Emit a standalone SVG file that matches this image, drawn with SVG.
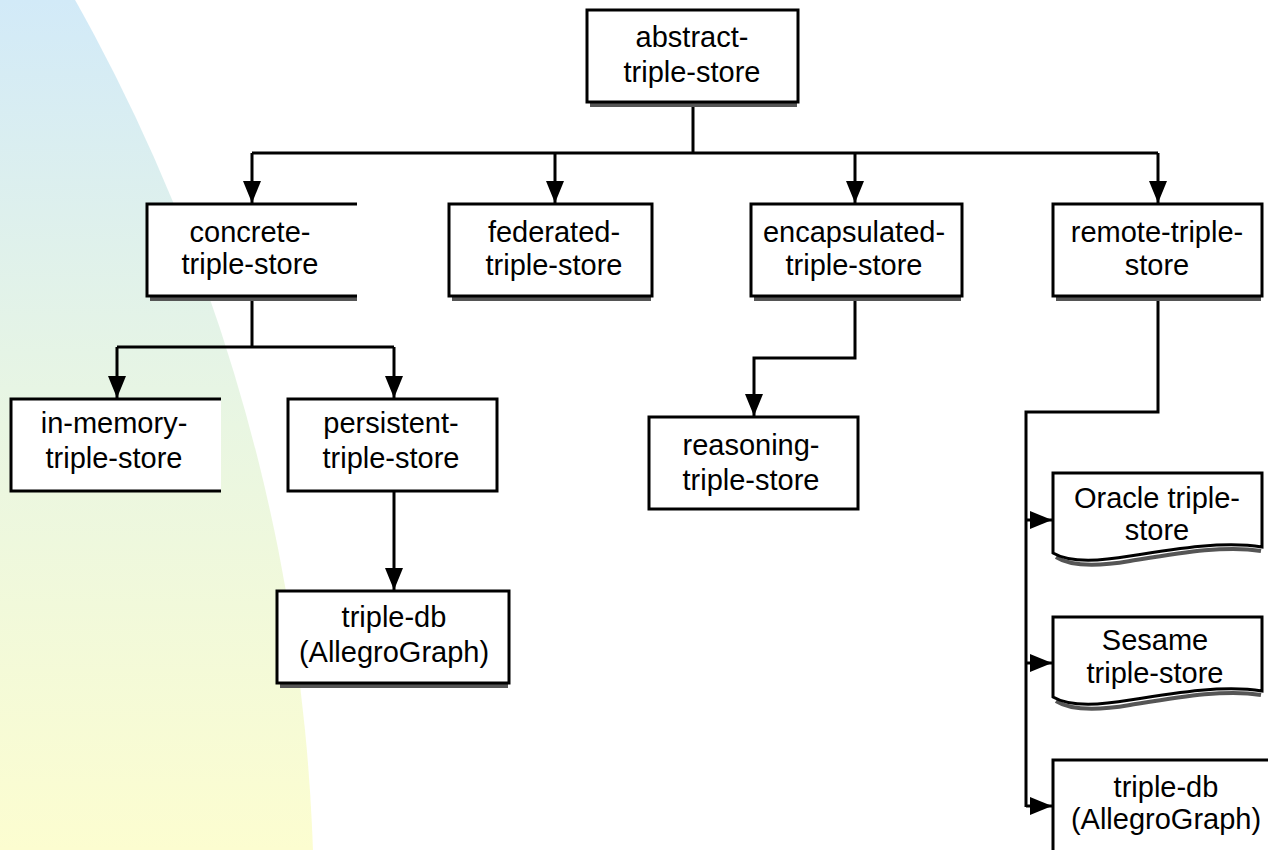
<svg xmlns="http://www.w3.org/2000/svg" width="1268" height="850" viewBox="0 0 1268 850">
  <defs>
    <linearGradient id="bg" x1="0" y1="0" x2="0" y2="850" gradientUnits="userSpaceOnUse">
      <stop offset="0" stop-color="#d2eaf8"/>
      <stop offset="0.5" stop-color="#e9f6e2"/>
      <stop offset="1" stop-color="#fcfdd0"/>
    </linearGradient>
    <marker id="arr" viewBox="0 0 22 18" refX="22" refY="9" markerWidth="22" markerHeight="18" markerUnits="userSpaceOnUse" orient="auto">
      <path d="M0,0 L22,9 L0,18 Z" fill="#000"/>
    </marker>
    <style>
      .box { fill: #fff; stroke: #000; stroke-width: 3; }
      .edge { fill: none; stroke: #000; stroke-width: 3; }
      .sh { fill: #555; }
      .shw { fill: none; stroke: #555; stroke-width: 4; }
      .conn { fill: none; stroke: #000; stroke-width: 3; }
      .arrow { marker-end: url(#arr); }
      text { font-family: "Liberation Sans", Arial, sans-serif; font-size: 29px; fill: #000; text-anchor: middle; }
    </style>
  </defs>

  <rect x="0" y="0" width="1268" height="850" fill="#fff"/>
  <circle cx="-1550" cy="913" r="1864" fill="url(#bg)"/>

  <g id="connectors">
    <path class="conn" d="M693,102 V153 M252,153 H1158"/>
    <path class="conn arrow" d="M252,153 V203"/>
    <path class="conn arrow" d="M555,153 V203"/>
    <path class="conn arrow" d="M855,153 V203"/>
    <path class="conn arrow" d="M1158,153 V203"/>
    <path class="conn" d="M252,296 V347 M117,347 H394"/>
    <path class="conn arrow" d="M117,347 V398"/>
    <path class="conn arrow" d="M394,347 V398"/>
    <path class="conn arrow" d="M394,491 V590"/>
    <path class="conn arrow" d="M855,296 V358 H754 V416"/>
    <path class="conn" d="M1158,296 V412 H1026 V807"/>
    <path class="conn arrow" d="M1026,520 H1052"/>
    <path class="conn arrow" d="M1026,663 H1052"/>
    <path class="conn arrow" d="M1026,806 H1052"/>
  </g>

  <g id="abstract-triple-store">
    <rect class="sh" x="590" y="103" width="207" height="4"/>
    <rect class="box" x="587" y="10" width="211" height="92"/>
    <text x="692" y="47">abstract-</text>
    <text x="692" y="82">triple-store</text>
  </g>

  <g id="concrete-triple-store">
    <rect class="sh" x="150" y="297" width="207" height="4"/>
    <rect x="147" y="204" width="210" height="92" fill="#fff"/>
    <path class="edge" d="M357,204 H147 V296 H357"/>
    <text x="250" y="242">concrete-</text>
    <text x="250" y="274">triple-store</text>
  </g>

  <g id="federated-triple-store">
    <rect class="sh" x="452" y="297" width="199" height="4"/>
    <rect class="box" x="449" y="204" width="203" height="92"/>
    <text x="554" y="242">federated-</text>
    <text x="554" y="275">triple-store</text>
  </g>

  <g id="encapsulated-triple-store">
    <rect class="sh" x="754" y="297" width="207" height="4"/>
    <rect class="box" x="751" y="204" width="211" height="92"/>
    <text x="854" y="242">encapsulated-</text>
    <text x="854" y="275">triple-store</text>
  </g>

  <g id="remote-triple-store">
    <rect class="sh" x="1056" y="297" width="205" height="4"/>
    <rect class="box" x="1053" y="204" width="209" height="92"/>
    <text x="1157" y="242">remote-triple-</text>
    <text x="1157" y="275">store</text>
  </g>

  <g id="in-memory-triple-store">
    <rect x="11" y="399" width="210" height="92" fill="#fff"/>
    <path class="edge" d="M221,399 H11 V491 H221"/>
    <text x="114" y="433">in-memory-</text>
    <text x="114" y="468">triple-store</text>
  </g>

  <g id="persistent-triple-store">
    <rect class="box" x="288" y="399" width="209" height="92"/>
    <text x="391" y="433">persistent-</text>
    <text x="391" y="468">triple-store</text>
  </g>

  <g id="triple-db-allegrograph">
    <rect class="sh" x="280" y="684" width="228" height="4"/>
    <rect class="box" x="277" y="591" width="232" height="92"/>
    <text x="394" y="627">triple-db</text>
    <text x="394" y="662">(AllegroGraph)</text>
  </g>

  <g id="reasoning-triple-store">
    <rect class="box" x="649" y="417" width="209" height="92"/>
    <text x="751" y="455">reasoning-</text>
    <text x="751" y="490">triple-store</text>
  </g>

  <g id="oracle-triple-store">
    <path class="shw" d="M1056,557 C1070,566 1095,567 1130,561 C1180,553 1225,545 1261,551"/>
    <path class="box" d="M1053,473 H1262 V547 C1225,541 1180,548 1130,556 C1095,562 1068,562 1053,553 Z"/>
    <text x="1157" y="508">Oracle triple-</text>
    <text x="1157" y="540">store</text>
  </g>

  <g id="sesame-triple-store">
    <path class="shw" d="M1056,701 C1070,710 1095,711 1130,705 C1180,697 1225,689 1261,695"/>
    <path class="box" d="M1053,617 H1262 V691 C1225,685 1180,692 1130,700 C1095,706 1068,706 1053,697 Z"/>
    <text x="1155" y="650">Sesame</text>
    <text x="1155" y="683">triple-store</text>
  </g>

  <g id="remote-triple-db-allegrograph">
    <rect class="box" x="1053" y="760" width="240" height="120"/>
    <text x="1166" y="797">triple-db</text>
    <text x="1166" y="829">(AllegroGraph)</text>
  </g>
</svg>
